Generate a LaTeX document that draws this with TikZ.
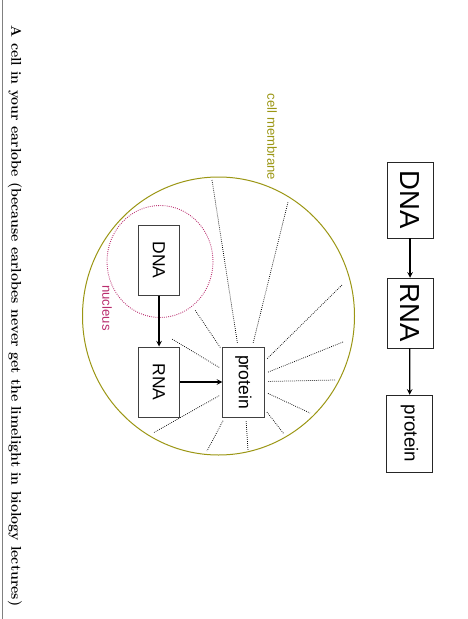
\documentclass[tikz,border=0pt]{standalone}
\usepackage{fontspec}
\usepackage{xcolor}
\newfontfamily\gillfont{Liberation Sans}
\definecolor{membranecol}{RGB}{155,150,20}
\definecolor{nucleuscol}{RGB}{185,45,110}
\tikzset{
  bigbox/.style={draw=black!85, rotate=-90, inner sep=0pt, minimum width=60.8pt, minimum height=37pt,
    font=\gillfont\fontsize{22}{22}\selectfont},
  cellbox/.style={draw=black!75, line width=0.8pt, rotate=-90, inner sep=0pt, minimum width=56pt, minimum height=33pt,
    font=\gillfont\fontsize{14}{14}\selectfont},
  tag/.style={rotate=-90, font=\gillfont\fontsize{10.5}{10.5}\selectfont},
  ray/.style={densely dotted, black, line width=0.6pt, shorten <=3pt}
}
\begin{document}
\begin{tikzpicture}[x=0.8pt, y=-0.8pt, >=stealth]
    \useasboundingbox (0,0) rectangle (467,619);
    % page edge
    \draw[gray, line width=0.6pt] (2.5,0) -- (2.5,619);

    % DNA -> RNA -> protein
    \node[bigbox] (odna) at (410,200) {DNA};
    \node[bigbox, minimum width=56pt] (orna) at (410,313) {RNA};
    \node[bigbox, minimum width=61.6pt, font=\gillfont\fontsize{15}{15}\selectfont] (oprot) at (409.5,433.5) {protein};
    \draw[->, line width=1pt] (odna) -- (orna);
    \draw[->, line width=1pt] (orna) -- (oprot);

    % Draw cell and nucleus
    \draw[membranecol, line width=0.8pt] (218.5,316) ellipse (136 and 139);
    \node[tag, text=membranecol] (memlabel) at (272,137) {cell membrane};
    \draw[nucleuscol, densely dotted, line width=0.7pt] (160,261.5) ellipse (53 and 56);
    \node[tag, text=nucleuscol] (nuclabel) at (107,308) {nucleus};

    % inside the cell
    \node[cellbox] (idna) at (159,260) {DNA};
    \node[cellbox] (irna) at (159,382) {RNA};
    \node[cellbox] (iprot) at (243.5,382) {protein};
    \draw[->, line width=1pt] (idna) -- (irna);
    \draw[->, line width=1pt] (irna) -- (iprot);

    % proteins spreading out
    \foreach \ex/\ey in {212/180, 288/202, 342/285, 343/342, 335/380, 310/413,
                         284/434, 248/450, 207/451, 153/433, 172/339, 195/310}
        \draw[ray] (iprot) -- (\ex,\ey);

    % caption
    \node[rotate=-90, font=\fontsize{11.3}{11.3}\selectfont\bfseries] (caption) at (15,316)
        {A cell in your earlobe (because earlobes never get the limelight in biology lectures)};
\end{tikzpicture}
\end{document}
